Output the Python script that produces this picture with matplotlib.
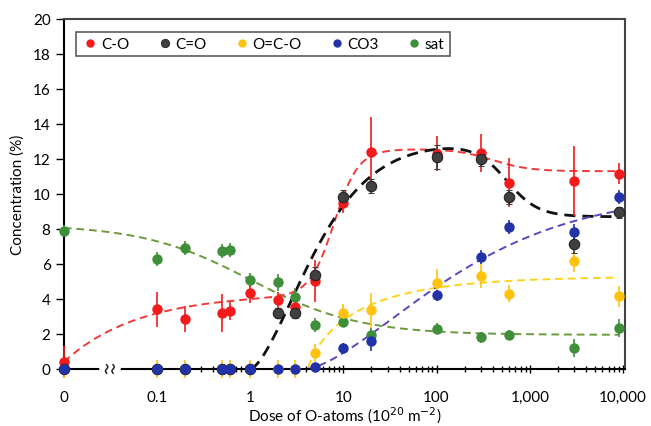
import numpy as np
import matplotlib
matplotlib.use("Agg")
import matplotlib.pyplot as plt
from matplotlib.lines import Line2D

plt.rcParams['font.family'] = ['Lato', 'DejaVu Sans']

# dose of O-atoms (1e20 m^-2); the 0 dose is drawn at the 0.01 position of the log axis
dose = [0, 0.1, 0.2, 0.5, 0.6, 1, 2, 3, 5, 10, 20, 100, 300, 600, 3000, 9000]
ZERO_POS = 0.01

co = [0.4, 3.4, 2.85, 3.2, 3.3, 4.35, 3.95, 3.55, 5.05, 9.5, 12.4, 12.3, 12.35, 10.65, 10.75, 11.15]
co_err = [0.9, 1.0, 0.75, 1.1, 0.5, 0.6, 0.45, 0.35, 1.2, 0.6, 2.0, 1.0, 1.1, 1.4, 2.0, 0.6]

c_o2 = [0, 0, 0, 0, 0, 0, 3.2, 3.2, 5.35, 9.85, 10.45, 12.1, 12.0, 9.8, 7.15, 8.95]
c_o2_err = [0, 0, 0, 0, 0, 0, 0.3, 0.3, 0.5, 0.4, 0.4, 0.7, 0.4, 0.4, 0.5, 0.3]

oco = [0, 0, 0, 0, 0, 0, 0, 0, 0.9, 3.2, 3.35, 4.9, 5.3, 4.3, 6.15, 4.15]
oco_err = [0.5, 0.5, 0.5, 0.5, 0.5, 0.5, 0.5, 0.5, 0.5, 0.5, 1.0, 0.8, 0.7, 0.5, 0.6, 0.6]

co3 = [0, 0, 0, 0, 0, 0, 0, 0, 0.1, 1.2, 1.6, 4.2, 6.4, 8.1, 7.8, 9.8]
co3_err = [0, 0, 0, 0, 0, 0, 0, 0, 0.2, 0.3, 0.6, 0.3, 0.4, 0.4, 0.5, 0.4]

sat = [7.9, 6.3, 6.9, 6.75, 6.8, 5.1, 4.95, 4.1, 2.5, 2.7, 1.95, 2.3, 1.8, 1.95, 1.2, 2.35]
sat_err = [0.3, 0.4, 0.4, 0.4, 0.4, 0.4, 0.5, 0.5, 0.4, 0.3, 0.4, 0.3, 0.3, 0.3, 0.5, 0.5]

labels = ['C-O', 'C=O', 'O=C-O', 'CO3', 'sat']
colors = ['#f21a1a', '#404040', '#ffc20e', '#2233aa', '#3f8f3a']
line_colors = ['#f03a3a', '#111111', '#ffd21a', '#5a48c0', '#6b9a3c']

xticks = [ZERO_POS, 0.1, 1, 10, 100, 1000, 10000]
xticklabels = ['0', '0.1', '1', '10', '100', '1,000', '10,000']


def sig(z):
    return 1.0 / (1.0 + np.exp(-z))


# guide-to-the-eye fit curves, u = log10(dose), u = -2 is the zero dose
u = np.linspace(-2, np.log10(9000), 600)
up = np.clip(u, 0, None)
uy = np.clip(u - 0.62, 0, None)
ub = np.clip(u - 0.6, 0, None)
fits = [
    0.4 + 3.9 * (1 - np.exp(-(u + 2) / 0.8)) + 8.3 * sig((u - 0.9) / 0.13) - 1.3 * sig((u - 2.6) / 0.2),
    np.where(u >= 0, 12.9 * (1 - np.exp(-(up / 0.85) ** 1.55)) - 4.2 * sig((u - 2.75) / 0.17), np.nan),
    np.where(u >= 0.62, 5.3 * (1 - np.exp(-(uy / 0.55) ** 0.8)), np.nan),
    np.where(u >= 0.6, 10.0 * (1 - np.exp(-(ub / 1.9) ** 1.5)), np.nan),
    1.95 + 6.3 * (1 - sig((u - 0.0) / 0.58)),
]

fig = plt.figure(figsize=(6.51, 4.27), dpi=100)
ax = fig.add_axes([0.098, 0.1335, 0.862, 0.82])

xpos = np.array([ZERO_POS if d == 0 else d for d in dose])
series = [(co, co_err), (c_o2, c_o2_err), (oco, oco_err), (co3, co3_err), (sat, sat_err)]
order = [4, 0, 2, 1, 3]
for i in order:
    ax.plot(10 ** u, fits[i], ls=(0, (4, 2.5)), color=line_colors[i],
            lw=2.0 if i == 1 else 1.4, zorder=2)
for i in order:
    y, e = series[i]
    ax.errorbar(xpos, y, yerr=e, fmt='o', color=colors[i], ms=7.5,
                mec='#222222' if i == 1 else colors[i], mew=0.8 if i == 1 else 0,
                elinewidth=1.2, capsize=2.5, capthick=1.0,
                ecolor=colors[i], clip_on=False, zorder=3)

ax.set_xscale('log')
ax.set_xlim(ZERO_POS, 10500)
ax.set_ylim(0, 20)
ax.set_yticks(range(0, 21, 2))
ax.set_xticks(xticks)
ax.set_xticklabels(xticklabels)
minor = [m * 10 ** k for k in range(-1, 4) for m in range(2, 10)]
ax.set_xticks(minor, minor=True)
ax.set_xticklabels([], minor=True)
ax.tick_params(axis='x', which='both', direction='inout', length=6, width=1.0, labelsize=11, pad=12)
ax.tick_params(axis='x', which='minor', length=5)
ax.tick_params(axis='y', direction='out', length=6, width=1.0, labelsize=11)
for s in ['left', 'bottom']:
    ax.spines[s].set_linewidth(1.5)
for s in ['top', 'right']:
    ax.spines[s].set_linewidth(1.5)
    ax.spines[s].set_color('#444444')

# axis break between 0 and 0.1
bx = 0.031
ax.plot([bx * 0.82, bx * 1.22], [0, 0], color='white', lw=4, transform=ax.get_xaxis_transform(),
        clip_on=False, zorder=4)
for off in (0.93, 1.09):
    t = np.linspace(-1, 1, 30)
    ax.plot(bx * off * 10 ** (0.012 * np.sin(t * np.pi)), t * 0.012, color='#222222', lw=1.1,
            transform=ax.get_xaxis_transform(), clip_on=False, zorder=5)

ax.set_xlabel('Dose of O-atoms (10$^{20}$ m$^{-2}$)', fontsize=11, labelpad=1)
ax.set_ylabel('Concentration (%)', fontsize=11, labelpad=6)

handles = [Line2D([], [], ls='none', marker='o', ms=6, color=colors[i],
                  mec='#222222' if i == 1 else colors[i], mew=0.6 if i == 1 else 0)
           for i in range(5)]
leg = ax.legend(handles, labels, loc='upper left', ncol=5,
                bbox_to_anchor=(0.008, 0.985), fontsize=11, frameon=True, fancybox=False,
                edgecolor='#333333', handletextpad=0.1, columnspacing=1.7, borderpad=0.35,
                handlelength=1.2)
leg.get_frame().set_linewidth(1.2)

fig.savefig('out.png', dpi=100)
